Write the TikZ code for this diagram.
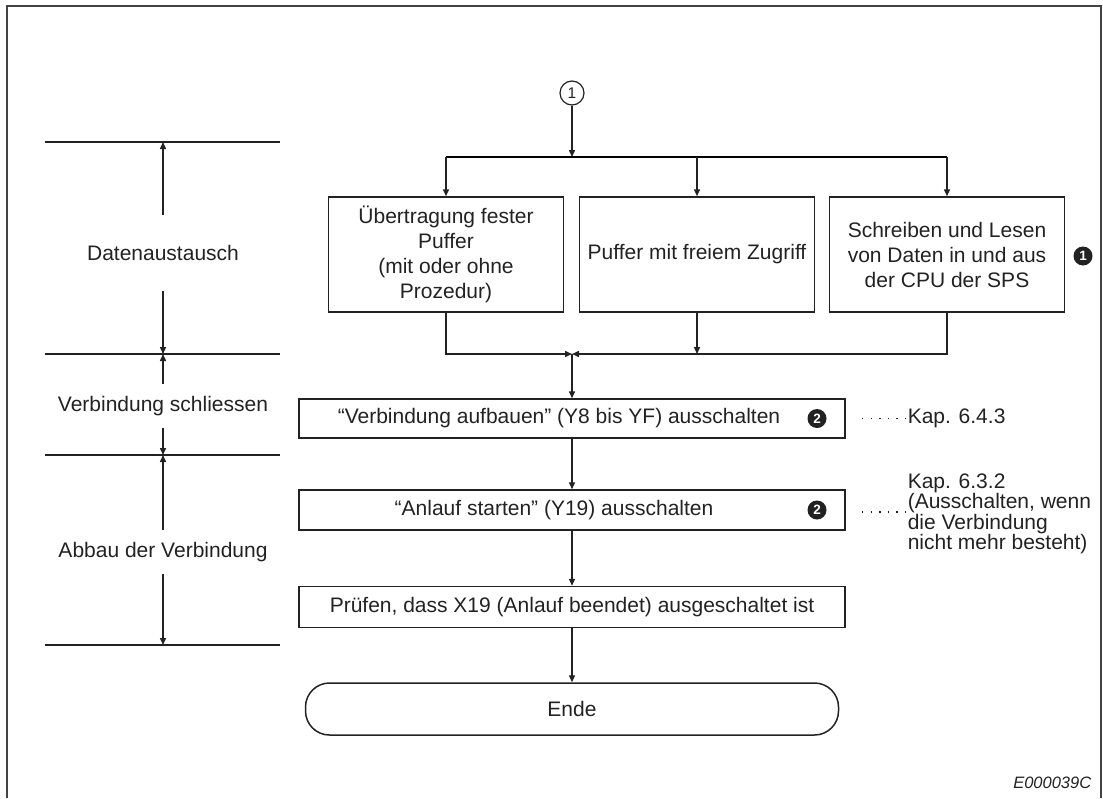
\documentclass[tikz,border=0pt]{standalone}
\usepackage{fontspec}
\setmainfont{Liberation Sans}
\usetikzlibrary{arrows.meta}

\definecolor{ink}{HTML}{222222}

\tikzset{every picture/.style={line width=1.5pt}}
\tikzset{
  stepbox/.style={draw=ink, text=ink, align=center, inner sep=0pt},
  flowarr/.style={draw=ink, -{Triangle[length=7pt,width=6pt]}},
  numdot/.style={circle, fill=ink, text=white, inner sep=0pt, minimum size=19pt,
    font=\fontsize{13.5}{13.5}\selectfont\bfseries},
  phase/.style={text=ink, inner xsep=0pt, inner ysep=11pt},
  refnote/.style={text=ink, anchor=west, align=left, inner sep=0pt,
    font=\fontsize{21}{20.5}\selectfont},
  dotline/.style={draw=ink, line width=1.3pt, dash pattern=on 1.3pt off 7.3pt},
}

\begin{document}
\begin{tikzpicture}[x=1pt,y=1pt,yscale=-1,xscale=1,font=\fontsize{21}{25}\selectfont]
\useasboundingbox (0,0) rectangle (1103,798);

% Frame
\draw[ink!85, line width=1.7pt] (7,798) -- (7,6) -- (1101,6) -- (1101,798);

% Phase rulers on the left
\foreach \y in {142,354,455,645}
  \draw[ink] (45,\y) -- (280,\y);
\coordinate (r1) at (163,142);
\coordinate (r2) at (163,354);
\coordinate (r3) at (163,455);
\coordinate (r4) at (163,645);

% Text Node
\node[phase, inner ysep=30pt] (datenaus) at (163,253) {Datenaustausch};
\node[phase] (schliessen) at (163,406) {Verbindung schliessen};
\node[phase] (abbau) at (163,552) {Abbau der Verbindung};
\draw[flowarr] (datenaus.north) -- (r1);
\draw[flowarr] (datenaus.south) -- (r2);
\draw[flowarr] (schliessen.north) -- (r2);
\draw[flowarr] (schliessen.south) -- (r3);
\draw[flowarr] (abbau.north) -- (r3);
\draw[flowarr] (abbau.south) -- (r4);

% Connector
\node[circle, draw=ink, text=ink, minimum size=24pt, inner sep=0pt, line width=1.2pt,
  font=\fontsize{15.5}{15.5}\selectfont] (start) at (572,93) {1};
\coordinate (fork) at (572,157);
\draw[flowarr] (start) -- (fork);

% Rectangles: data exchange
\node[stepbox, minimum width=235pt, minimum height=115pt] (uebertragung) at (446,254.5)
  {Übertragung fester\\Puffer\\(mit oder ohne\\Prozedur)};
\node[stepbox, minimum width=235pt, minimum height=115pt] (freizugriff) at (697,254.5)
  {Puffer mit freiem Zugriff};
\node[stepbox, minimum width=235pt, minimum height=115pt] (cpuzugriff) at (947,254.5)
  {Schreiben und Lesen\\von Daten in und aus\\der CPU der SPS};
\node[numdot] (hint1) at (1083,256) {1};

\draw (uebertragung.north |- fork) -- (cpuzugriff.north |- fork);
\draw[flowarr] (uebertragung.north |- fork) -- (uebertragung.north);
\draw[flowarr] (freizugriff.north |- fork) -- (freizugriff.north);
\draw[flowarr] (cpuzugriff.north |- fork) -- (cpuzugriff.north);

\coordinate (join) at (572,354);
\draw[flowarr] (uebertragung.south) |- (join);
\draw[flowarr] (cpuzugriff.south) |- (join);
\draw[flowarr] (freizugriff.south) -- (freizugriff.south |- join);

% Rectangles: closing
\node[stepbox, minimum width=546pt, minimum height=39pt] (aufbauen) at (572,418.5)
  {“Verbindung aufbauen” (Y8 bis YF) ausschalten\hspace*{26pt}};
\node[numdot] (hint2a) at (817,418.5) {2};
\node[stepbox, minimum width=546pt, minimum height=40pt] (anlauf) at (572,510)
  {“Anlauf starten” (Y19) ausschalten\hspace*{36pt}};
\node[numdot] (hint2b) at (817,510) {2};
\node[stepbox, minimum width=546pt, minimum height=41pt] (pruefen) at (572,607)
  {Prüfen, dass X19 (Anlauf beendet) ausgeschaltet ist};
\node[stepbox, rounded corners=24pt, minimum width=533pt, minimum height=52pt] (ende) at (572,709)
  {Ende};

\draw[flowarr] (join) -- (aufbauen);
\draw[flowarr] (aufbauen) -- (anlauf);
\draw[flowarr] (anlauf) -- (pruefen);
\draw[flowarr] (pruefen) -- (ende);

% References
\coordinate (dots1) at (862,418.5);
\node[refnote] (kap1) at (907,418.5) {Kap. 6.4.3};
\draw[dotline] (dots1) -- (kap1.west);
\coordinate (dots2) at (862,512);
\node[refnote] (kap2) at (907,514)
  {Kap. 6.3.2\\(Ausschalten, wenn\\die Verbindung\\nicht mehr besteht)};
\draw[dotline] (dots2) -- (kap2.west |- dots2);

\node[anchor=east, inner sep=0pt, text=ink, font=\fontsize{16.5}{18}\selectfont\itshape]
  (figid) at (1092,783) {E000039C};
\end{tikzpicture}
\end{document}
